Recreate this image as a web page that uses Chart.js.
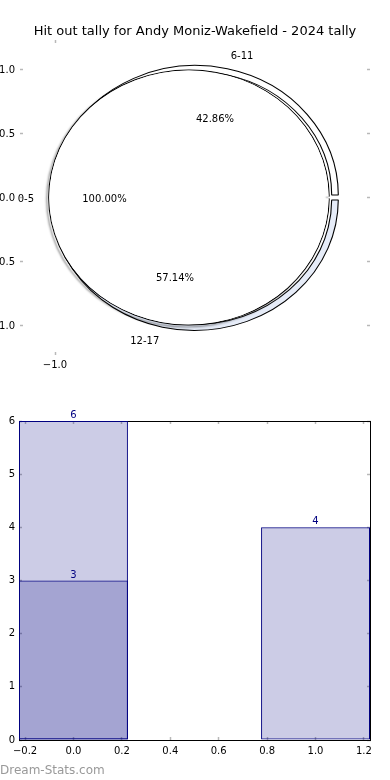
<!DOCTYPE html>
<html>
<head>
<meta charset="utf-8">
<script src="https://cdn.jsdelivr.net/npm/chart.js@4.4.1/dist/chart.umd.min.js"></script>
<style>
  html, body { margin: 0; padding: 0; background: #fff; }
  #wrap { position: relative; width: 390px; height: 780px; overflow: hidden; }
  canvas { position: absolute; left: 0; }
  #pie { top: 0; }
  #bars { top: 380px; }
  #mark { position: absolute; left: 0; top: 763px; font: 12px/14px "DejaVu Sans", sans-serif; color: #999; }
</style>
</head>
<body>
<div id="wrap">
  <canvas id="pie" width="390" height="380"></canvas>
  <canvas id="bars" width="390" height="400"></canvas>
  <div id="mark">Dream-Stats.com</div>
</div>
<script>
var titleText = 'Hit out tally for Andy Moniz-Wakefield - 2024 tally';

// pie: 0-5 on its own, 6-11 and 12-17 together
var innerLabels = ['0-5'];
var innerCounts = [1];
var outerLabels = ['6-11', '12-17'];
var outerCounts = [3, 4];
var outerColors = ['#ffffff', '#e6ecf8'];
var pieXTicks = [-1.0];
var pieYTicks = [-1.0, -0.5, 0.0, 0.5, 1.0];

// bars
var barX = [0, 1];
var barTotals = [6, 4];
var barSecond = [3, null];
var barXTicks = [-0.2, 0.0, 0.2, 0.4, 0.6, 0.8, 1.0, 1.2];
var barYTicks = [0, 1, 2, 3, 4, 5, 6];

Chart.defaults.font.family = '"DejaVu Sans", sans-serif';
Chart.defaults.font.size = 10;
Chart.defaults.color = '#000';

function fmt1(v) { return (v < 0 ? '\u2212' : '') + Math.abs(v).toFixed(1); }
function setTicks(list) { return function (s) { s.ticks = list.map(function (v) { return {value: v}; }); }; }
function fixW(w) { return function (s) { s.width = w; }; }
function fixH(h) { return function (s) { s.height = h; }; }
function tickGrid() {
    return { offset: false, drawOnChartArea: false, tickLength: -3, tickColor: '#b8b8b8', tickWidth: 1.5 };
}

// the pie is squashed to an ellipse, like the original
var SX = 1.1, LABEL_R = 128, LABEL_DY = 1.5;
var ellipse = {
    id: 'ellipse',
    beforeDatasetDraw: function (chart, args) {
        var a = chart.chartArea, cx = (a.left + a.right) / 2, ctx = chart.ctx;
        var sh = chart.data.datasets[args.index].shadow;
        ctx.save();
        ctx.translate(cx, 0);
        ctx.scale(SX, 1);
        ctx.translate(-cx, 0);
        if (sh) {
            ctx.shadowColor = 'rgba(0,0,0,' + sh + ')';
            ctx.shadowOffsetX = -2;
            ctx.shadowOffsetY = 2;
            ctx.shadowBlur = 2;
        }
    },
    afterDatasetDraw: function (chart) {
        chart.ctx.restore();
    },
    afterDraw: function (chart) {
        var ctx = chart.ctx, a = chart.chartArea, cx = (a.left + a.right) / 2;
        ctx.save();
        ctx.font = '10px "DejaVu Sans", sans-serif';
        ctx.fillStyle = '#000';
        ctx.textBaseline = 'middle';
        chart.data.datasets.forEach(function (ds, di) {
            if (!ds.labels) return;
            var total = ds.data.reduce(function (s, v) { return s + v; }, 0);
            chart.getDatasetMeta(di).data.forEach(function (arc, i) {
                var mid = (arc.startAngle + arc.endAngle) / 2;
                var bx = arc.x + Math.cos(mid) * ds.explode, by = arc.y + Math.sin(mid) * ds.explode;
                var put = function (f, text, align) {
                    var x = bx + Math.cos(mid) * LABEL_R * f;
                    var y = by + Math.sin(mid) * LABEL_R * f;
                    ctx.textAlign = align;
                    ctx.fillText(text, cx + (x - cx) * SX, y + LABEL_DY);
                };
                put(1.1, ds.labels[i], Math.cos(mid) >= 0 ? 'left' : 'right');
                put(0.6, (ds.data[i] / total * 100).toFixed(2) + '%', 'center');
            });
        });
        ctx.restore();
    }
};

new Chart(document.getElementById('pie'), {
    type: 'pie',
    data: {
        datasets: [{
            // 6-11 and 12-17, drawn clockwise so reversed
            data: outerCounts.slice().reverse(),
            labels: outerLabels.slice().reverse(),
            backgroundColor: outerColors.slice().reverse(),
            borderColor: '#000',
            borderWidth: 1,
            offset: 9,
            explode: 5,
            weight: 6,
            order: 2
        }, {
            // outline of the 0-5 disk, carries its shadow
            data: innerCounts,
            backgroundColor: '#000',
            borderWidth: 0,
            offset: 22,
            weight: 1,
            shadow: 0.55,
            order: 1
        }, {
            data: innerCounts,
            labels: innerLabels,
            backgroundColor: '#ffffff',
            borderWidth: 0,
            offset: 22,
            explode: 5.5,
            weight: 121.5,
            order: 0
        }]
    },
    options: {
        responsive: false,
        animation: false,
        radius: 128.5,
        rotation: 90,
        layout: { padding: 0 },
        plugins: {
            legend: { display: false },
            tooltip: { enabled: false },
            title: {
                display: true,
                text: titleText,
                color: '#000',
                font: { size: 13, weight: 'normal' },
                padding: { top: 24, bottom: 0.4 }
            }
        },
        scales: {
            x: {
                type: 'linear', position: 'bottom', min: -1.25, max: 1.25,
                afterBuildTicks: setTicks(pieXTicks), afterFit: fixH(25),
                grid: tickGrid(), border: { display: false },
                ticks: { padding: 7, callback: fmt1 }
            },
            xTop: {
                type: 'linear', axis: 'x', position: 'top', min: -1.25, max: 1.25,
                afterBuildTicks: setTicks(pieXTicks), afterFit: fixH(0),
                grid: tickGrid(), border: { display: false },
                ticks: { display: false }
            },
            y: {
                type: 'linear', position: 'left', min: -1.227, max: 1.234,
                afterBuildTicks: setTicks(pieYTicks), afterFit: fixW(20),
                grid: tickGrid(), border: { display: false },
                ticks: { padding: 8, callback: fmt1 }
            },
            yRight: {
                type: 'linear', axis: 'y', position: 'right', min: -1.227, max: 1.234,
                afterBuildTicks: setTicks(pieYTicks), afterFit: fixW(20),
                grid: tickGrid(), border: { display: false },
                ticks: { display: false }
            }
        }
    },
    plugins: [ellipse]
});

var barLabels = {
    id: 'barLabels',
    afterDatasetsDraw: function (chart) {
        var ctx = chart.ctx;
        ctx.save();
        ctx.font = '10px "DejaVu Sans", sans-serif';
        ctx.fillStyle = '#000080';
        ctx.textAlign = 'center';
        ctx.textBaseline = 'alphabetic';
        chart.data.datasets.forEach(function (ds, di) {
            chart.getDatasetMeta(di).data.forEach(function (bar, i) {
                var v = ds.data[i].y;
                if (v === null) return;
                ctx.fillText(String(v), bar.x, bar.y - 3);
            });
        });
        ctx.restore();
    }
};

var BAR_WIDTH = 0.45;   // in x units
function barSet(values) {
    return {
        data: barX.map(function (x, i) { return {x: x, y: values[i]}; }),
        xAxisID: 'x', yAxisID: 'y',
        backgroundColor: 'rgba(0,0,128,0.2)',
        borderColor: '#000080',
        borderWidth: 1,
        borderSkipped: false,
        inflateAmount: 0,
        grouped: false,
        barThickness: function (c) {
            var s = c.chart.scales.x;
            return s.getPixelForValue(BAR_WIDTH) - s.getPixelForValue(0);
        }
    };
}

new Chart(document.getElementById('bars'), {
    type: 'bar',
    data: { datasets: [barSet(barTotals), barSet(barSecond)] },
    options: {
        responsive: false,
        animation: false,
        layout: { padding: { left: 0, right: 20, top: 41, bottom: 20 } },
        plugins: { legend: { display: false }, tooltip: { enabled: false } },
        scales: {
            x: {
                type: 'linear', position: 'bottom', min: -0.225, max: 1.225, offset: false,
                afterBuildTicks: setTicks(barXTicks), afterFit: fixH(20),
                grid: tickGrid(), border: { color: '#000', width: 1 },
                ticks: { padding: 8, callback: fmt1, maxRotation: 0, autoSkip: false }
            },
            xTop: {
                type: 'linear', axis: 'x', position: 'top', min: -0.225, max: 1.225, offset: false,
                afterBuildTicks: setTicks(barXTicks), afterFit: fixH(0),
                grid: tickGrid(), border: { color: '#000', width: 1 },
                ticks: { display: false }
            },
            y: {
                type: 'linear', position: 'left', min: 0, max: 6,
                afterBuildTicks: setTicks(barYTicks), afterFit: fixW(19),
                grid: tickGrid(), border: { color: '#000', width: 1 },
                ticks: { padding: 7, callback: function (v) { return String(v); } }
            },
            yRight: {
                type: 'linear', axis: 'y', position: 'right', min: 0, max: 6,
                afterBuildTicks: setTicks(barYTicks), afterFit: fixW(0),
                grid: tickGrid(), border: { color: '#000', width: 1 },
                ticks: { display: false }
            }
        }
    },
    plugins: [barLabels]
});
</script>
</body>
</html>
